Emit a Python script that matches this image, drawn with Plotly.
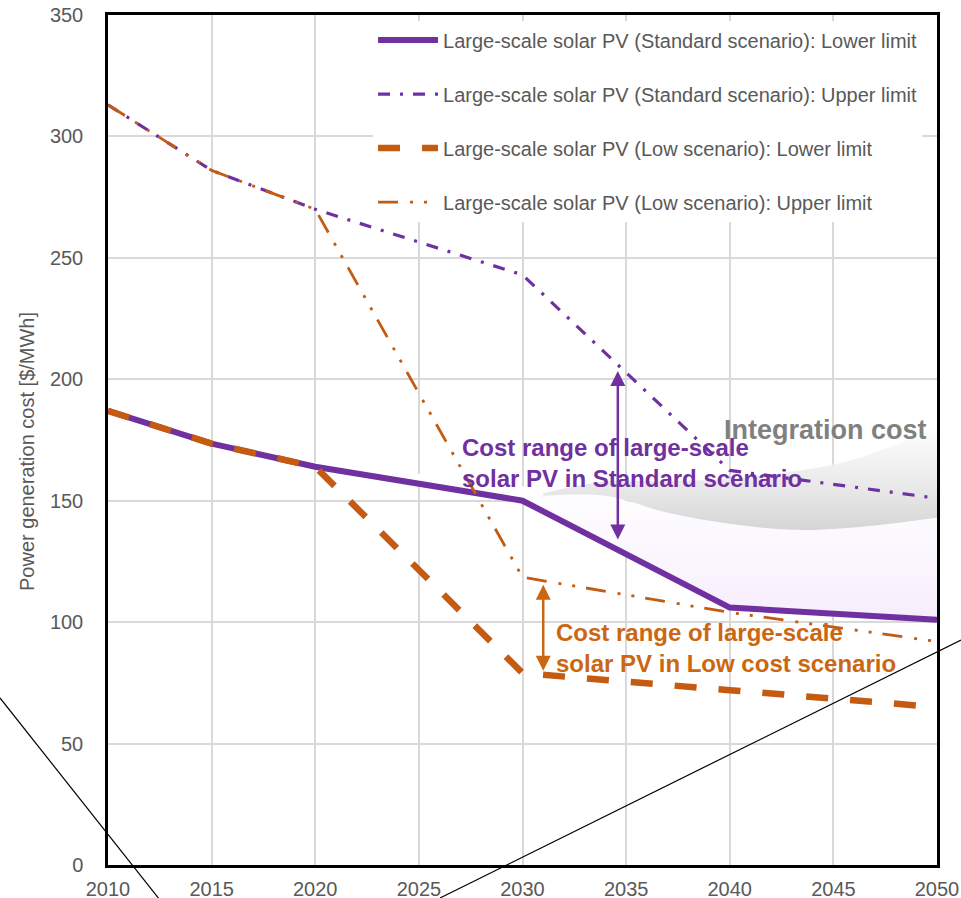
import plotly.graph_objects as go

# ---- data -------------------------------------------------------------
years = [2010, 2015, 2020, 2030, 2040, 2050]
std_lower = [187, 173.5, 164, 150, 106, 101]
std_upper = [313, 286, 270, 243, 162.5, 151]
low_lower = [187, 173.5, 164, 79, 72, 65]
low_upper = [313, 286, 270, 118.5, 104, 92]

series_names = [
    "Large-scale solar PV (Standard scenario): Lower limit",
    "Large-scale solar PV (Standard scenario): Upper limit",
    "Large-scale solar PV (Low scenario): Lower limit",
    "Large-scale solar PV (Low scenario): Upper limit",
]

# shaded integration-cost band (lower / upper edge)
band_years = [2031, 2034, 2037, 2040, 2043, 2046, 2050]
band_lo = [152, 152, 145, 140.5, 138, 139, 143]
band_hi = [153, 158, 158, 159, 162, 167, 180]

# faint haze above the standard lower limit, up to the band
haze_years = [2020, 2030, 2034, 2037, 2040, 2043, 2046, 2050]
haze_hi = [166, 156, 152, 145, 140.5, 138, 139, 143]

# cost-range arrows: (year, from, to)
std_range = (2034.6, 204, 134)
low_range = (2031.0, 116, 80)
total_range = (2050.8, 153, 62)

x_ticks = [2010, 2015, 2020, 2025, 2030, 2035, 2040, 2045, 2050]
y_ticks = [0, 50, 100, 150, 200, 250, 300, 350]

# ---- styling ----------------------------------------------------------
FONT = "Liberation Sans, Arial, sans-serif"
PURPLE = "#7030A0"
ORANGE = "#C55A11"
ORANGE_TXT = "#CC6611"
GREY_TXT = "#595959"

fig = go.Figure()

# haze: hidden copy of the standard lower limit from 2020, then fill up to the band
fig.add_trace(go.Scatter(x=years[2:], y=std_lower[2:], mode="lines",
                         line=dict(width=0), showlegend=False, hoverinfo="skip"))
fig.add_trace(go.Scatter(
    x=haze_years, y=haze_hi, mode="lines", line=dict(width=0, shape="spline"),
    fill="tonexty", showlegend=False, hoverinfo="skip",
    fillgradient=dict(type="vertical", start=100, stop=158,
                      colorscale=[[0, "#f6edfc"], [0.5, "#fbf7fe"], [1, "#ffffff"]]),
))

# integration cost band
fig.add_trace(go.Scatter(x=band_years, y=band_lo, mode="lines",
                         line=dict(width=0, shape="spline"), showlegend=False,
                         hoverinfo="skip"))
fig.add_trace(go.Scatter(
    x=band_years, y=band_hi, mode="lines", line=dict(width=0, shape="spline"),
    fill="tonexty", showlegend=False, hoverinfo="skip",
    fillgradient=dict(type="vertical", start=137, stop=182,
                      colorscale=[[0, "#d4d4d4"], [0.35, "#e6e6e6"], [1, "#ffffff"]]),
))

# the four cost curves
line_styles = [
    dict(color=PURPLE, width=6, dash="solid"),
    dict(color=PURPLE, width=3.2, dash="12px,10px,3px,10px"),
    dict(color=ORANGE, width=6.5, dash="22px,22px"),
    dict(color=ORANGE, width=2.8, dash="20px,12px,3px,11px,3px,11px"),
]
for i, (name, vals) in enumerate(zip(series_names,
                                     [std_lower, std_upper, low_lower, low_upper])):
    fig.add_trace(go.Scatter(x=years, y=vals, mode="lines", name=name,
                             line=line_styles[i], legendgroup=f"g{i}"))

# ---- annotations ------------------------------------------------------
def range_arrow(rng, color, width):
    x, y0, y1 = rng
    return dict(x=x, y=y1, ax=x, ay=y0, xref="x", yref="y", axref="x", ayref="y",
                text="", showarrow=True, arrowside="end+start",
                arrowhead=2, startarrowhead=2, arrowsize=1.2, startarrowsize=1.2,
                arrowwidth=width, arrowcolor=color, standoff=0, startstandoff=0)

annotations = [
    range_arrow(std_range, PURPLE, 2.5),
    range_arrow(low_range, ORANGE_TXT, 2.5),
    range_arrow(total_range, "black", 3),
    dict(x=2049.6, y=179, xref="x", yref="y", xanchor="right", yanchor="middle",
         text="<b>Integration cost</b>", showarrow=False,
         font=dict(family=FONT, size=27, color="#808080")),
    dict(x=2027.0, y=165.5, xref="x", yref="y", xanchor="left", yanchor="middle",
         align="left", showarrow=False,
         text="<b>Cost range of large-scale<br>solar PV in Standard scenario</b>",
         font=dict(family=FONT, size=24, color=PURPLE)),
    dict(x=2031.5, y=89.4, xref="x", yref="y", xanchor="left", yanchor="middle",
         align="left", showarrow=False,
         text="<b>Cost range of large-scale<br>solar PV in Low cost scenario</b>",
         font=dict(family=FONT, size=24, color=ORANGE_TXT)),
    # vertical axis title
    dict(x=-0.0977, y=0.4859, xref="paper", yref="paper", xanchor="center",
         yanchor="middle", textangle=-90, showarrow=False,
         text="Power generation cost [$/MWh]",
         font=dict(family=FONT, size=20, color=GREY_TXT)),
]

# thin diagonal guide lines crossing the lower part of the figure
shapes = [
    dict(type="line", xref="paper", yref="paper", x0=-0.1303, y0=0.1965,
         x1=0.0627, y1=-0.0412, line=dict(color="black", width=1.2)),
    dict(type="line", xref="paper", yref="paper", x0=0.4005, y0=-0.0388,
         x1=1.0290, y1=0.2647, line=dict(color="black", width=1.2)),
]

fig.update_layout(
    width=961, height=898,
    margin=dict(l=108, r=24, t=15, b=33, autoexpand=False),
    paper_bgcolor="white", plot_bgcolor="white",
    font=dict(family=FONT, color=GREY_TXT),
    showlegend=True,
    legend=dict(x=0.3197, y=0.9935, xanchor="left", yanchor="top",
                bgcolor="white", borderwidth=0, tracegroupgap=25, itemwidth=60,
                font=dict(family=FONT, size=20, color=GREY_TXT)),
    annotations=annotations,
    shapes=shapes,
)

fig.update_xaxes(range=[2010, 2050], tickvals=x_ticks, ticktext=[str(v) for v in x_ticks],
                 showgrid=True, gridcolor="#d9d9d9", gridwidth=1.5,
                 showline=True, linecolor="black", linewidth=2.5, mirror=True,
                 ticks="", ticklabelstandoff=4, zeroline=False, automargin=False,
                 tickfont=dict(family=FONT, size=20, color=GREY_TXT))
fig.update_yaxes(range=[0, 350], tickvals=y_ticks,
                 showgrid=True, gridcolor="#d9d9d9", gridwidth=1.5,
                 showline=True, linecolor="black", linewidth=2.5, mirror=True,
                 ticks="", ticklabelstandoff=18, zeroline=False, automargin=False,
                 tickfont=dict(family=FONT, size=20, color=GREY_TXT))

fig.write_html("out.html")
